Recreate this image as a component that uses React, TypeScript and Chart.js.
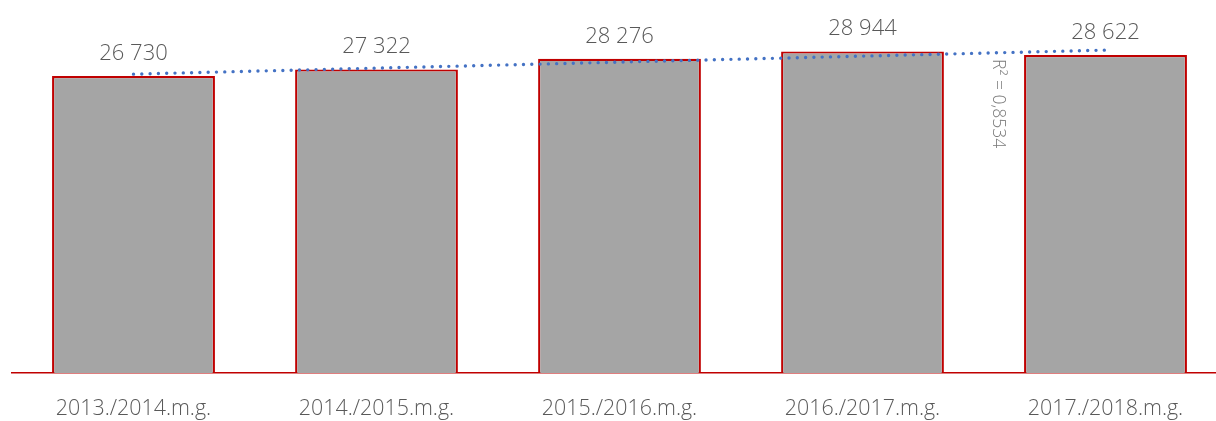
import React, { useEffect, useRef } from "react";
import { Chart, registerables } from "chart.js";

Chart.register(...registerables);

const categories = [
  "2013./2014.m.g.",
  "2014./2015.m.g.",
  "2015./2016.m.g.",
  "2016./2017.m.g.",
  "2017./2018.m.g.",
];
const values = [26730, 27322, 28276, 28944, 28622];
const trendValues: (number | null)[] = [26898, null, null, null, 29060];
const rSquaredLabel = "R² = 0,8534";

const FONT = "'Open Sans', 'Noto Sans', sans-serif";

const fmt = (v: number) => String(v).replace(/\B(?=(\d{3})+(?!\d))/g, " ");

export default function App() {
  const ref = useRef<HTMLCanvasElement | null>(null);
  useEffect(() => {
    if (!ref.current) return;
    const labelPlugin = {
      id: "valueLabels",
      afterDatasetsDraw(chart: any) {
        const ctx = chart.ctx;
        const meta = chart.getDatasetMeta(0);
        ctx.save();
        ctx.fillStyle = "#595959";
        ctx.font = `300 22px ${FONT}`;
        ctx.textAlign = "center";
        ctx.textBaseline = "alphabetic";
        meta.data.forEach((el: any, i: number) => {
          ctx.fillText(fmt(values[i]), el.x, el.y - 16);
        });
        const xs = chart.scales.x;
        const ys = chart.scales.y;
        const rx = xs.getPixelForValue(3.5) + 14;
        const ry = ys.getPixelForValue(28790) + 6;
        ctx.translate(rx, ry);
        ctx.rotate(Math.PI / 2);
        ctx.fillStyle = "#7a7a7a";
        ctx.font = `300 17.5px ${FONT}`;
        ctx.textAlign = "left";
        ctx.textBaseline = "middle";
        ctx.fillText(rSquaredLabel, 0, 0);
        ctx.restore();
      },
    };
    const chart = new Chart(ref.current, {
      type: "bar",
      data: {
        labels: categories,
        datasets: [
          {
            type: "bar",
            data: values,
            backgroundColor: "#a5a5a5",
            borderColor: "#c00000",
            borderWidth: 2.2,
            categoryPercentage: 1,
            barPercentage: 0.67,
            order: 1,
          } as any,
          {
            type: "line",
            data: trendValues,
            spanGaps: true,
            borderColor: "#4472c4",
            borderWidth: 3.4,
            borderDash: [0, 8.3],
            borderCapStyle: "round",
            pointRadius: 0,
            fill: false,
            order: 0,
          } as any,
        ],
      },
      options: {
        responsive: false,
        animation: false,
        layout: { padding: { left: 12, right: 0, top: 0, bottom: 0 } },
        plugins: { legend: { display: false }, tooltip: { enabled: false } },
        scales: {
          x: {
            grid: { display: false, drawTicks: false },
            border: { display: true, color: "#c00000", width: 1.5 },
            ticks: {
              color: "#595959",
              font: { family: FONT, size: 21.4, weight: "300" as any },
              padding: 23,
              maxRotation: 0,
            },
            afterFit: (s: any) => {
              s.height = 48;
            },
          },
          y: {
            display: false,
            min: 0,
            max: 33570,
          },
        },
      },
      plugins: [labelPlugin],
    });
    return () => chart.destroy();
  }, []);
  return (
    <div
      style={{
        position: "fixed",
        left: 0,
        top: 0,
        width: 1216,
        height: 421,
        overflow: "hidden",
        background: "#fff",
      }}
    >
      <canvas ref={ref} width={1227} height={421} style={{ display: "block" }} />
    </div>
  );
}
